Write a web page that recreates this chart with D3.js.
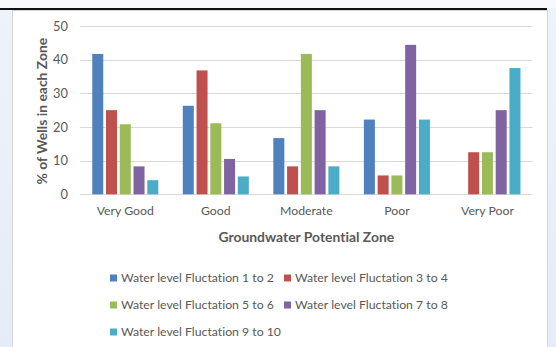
<!DOCTYPE html>
<html>
<head>
<meta charset="utf-8">
<script src="https://cdn.jsdelivr.net/npm/d3@7"></script>
<style>
  html, body { margin: 0; padding: 0; }
  body { width: 556px; height: 347px; overflow: hidden; background: linear-gradient(#eef2fa, #e6ecf7); }
  svg { display: block; }
  text { font-variant-ligatures: none; font-feature-settings: "liga" 0; }
</style>
</head>
<body>
<svg id="chart" width="556" height="347"></svg>
<script>
// Groundwater potential zones and share of wells per water-level fluctuation class
const zones = ["Very Good", "Good", "Moderate", "Poor", "Very Poor"];
const seriesNames = [
  "Water level Fluctation 1 to 2",
  "Water level Fluctation 3 to 4",
  "Water level Fluctation 5 to 6",
  "Water level Fluctation 7 to 8",
  "Water level Fluctation 9 to 10"
];
const fluct1to2  = [41.7, 26.3, 16.7, 22.2, 0];
const fluct3to4  = [25.0, 36.8, 8.3, 5.6, 12.5];
const fluct5to6  = [20.8, 21.1, 41.7, 5.6, 12.5];
const fluct7to8  = [8.3, 10.5, 25.0, 44.4, 25.0];
const fluct9to10 = [4.2, 5.3, 8.3, 22.2, 37.5];
const yTicks = [0, 10, 20, 30, 40, 50];
const colors = ["#4F81BD", "#C0504D", "#9BBB59", "#8064A2", "#4BACC6"];

const seriesValues = [fluct1to2, fluct3to4, fluct5to6, fluct7to8, fluct9to10];

const svg = d3.select("#chart");
const font = "Lato, 'Open Sans', sans-serif";
const textColor = "#595959";

// size fonts so a legend entry fills its 153px column and the x title spans 176px
function fitSize(str, weight, targetWidth) {
  const probe = svg.append("text").attr("font-family", font).attr("font-weight", weight)
    .attr("font-size", 20).text(str);
  const w = probe.node().getComputedTextLength();
  probe.remove();
  return 20 * targetWidth / w;
}
const textSize = fitSize(seriesNames[0], "normal", 153);
const titleSize = fitSize("Groundwater Potential Zone", "bold", 176);

// page frame: light top strip, dark rule, white chart panel
svg.append("rect").attr("x", 0).attr("y", 0).attr("width", 556).attr("height", 8).attr("fill", "#f7f9fd");
svg.append("rect").attr("x", 0).attr("y", 8).attr("width", 547).attr("height", 2).attr("fill", "#111");
svg.append("rect").attr("x", 12.5).attr("y", 10.5).attr("width", 535).attr("height", 340)
  .attr("fill", "#fff").attr("stroke", "#d4d4d4");

const plot = { left: 80, right: 532.7, top: 26, bottom: 194.3 };

const x0 = d3.scaleBand().domain(zones).range([plot.left, plot.right])
  .paddingInner(0.24).paddingOuter(0.12);
const x1 = d3.scaleBand().domain(d3.range(seriesNames.length)).range([0, x0.bandwidth()])
  .paddingInner(0.2).paddingOuter(0.1);
const y = d3.scaleLinear().domain([0, 50]).range([plot.bottom, plot.top]);

// gridlines
const grid = svg.append("g");
grid.selectAll("line").data(yTicks).join("line")
  .attr("x1", plot.left).attr("x2", plot.right)
  .attr("y1", d => Math.round(y(d)) + 0.5).attr("y2", d => Math.round(y(d)) + 0.5)
  .attr("stroke", "#d9d9d9").attr("stroke-width", 1);

// y axis tick labels
const yAxis = svg.append("g").attr("transform", `translate(${plot.left - 12},0)`)
  .call(d3.axisLeft(y).tickValues(yTicks).tickSize(0).tickPadding(0));
yAxis.select(".domain").remove();
yAxis.selectAll("text").attr("font-family", font).attr("font-size", textSize + 0.6).attr("fill", textColor);

// x axis category labels
const xAxis = svg.append("g").attr("transform", `translate(0,${plot.bottom})`)
  .call(d3.axisBottom(x0).tickSize(0).tickPadding(12));
xAxis.select(".domain").remove();
xAxis.selectAll("text").attr("font-family", font).attr("font-size", textSize).attr("fill", textColor);

// bars
const groups = svg.append("g").selectAll("g").data(zones).join("g")
  .attr("transform", d => `translate(${x0(d)},0)`);
groups.selectAll("rect")
  .data((z, zi) => seriesValues.map((vals, si) => ({ si, v: vals[zi] })))
  .join("rect")
  .attr("x", d => x1(d.si))
  .attr("width", x1.bandwidth())
  .attr("y", d => y(d.v))
  .attr("height", d => y(0) - y(d.v))
  .attr("fill", d => colors[d.si]);

// axis titles
svg.append("text")
  .attr("transform", `translate(47,${(plot.top + plot.bottom) / 2 + 1}) rotate(-90)`)
  .attr("text-anchor", "middle")
  .attr("font-family", font).attr("font-weight", "bold").attr("font-size", titleSize)
  .attr("fill", textColor)
  .text("% of Wells in each Zone");

svg.append("text")
  .attr("x", (plot.left + plot.right) / 2).attr("y", 242)
  .attr("text-anchor", "middle")
  .attr("font-family", font).attr("font-weight", "bold").attr("font-size", titleSize)
  .attr("fill", textColor)
  .text("Groundwater Potential Zone");

// legend: two columns, three rows
const legendPos = [[110, 278], [284, 278], [110, 305], [284, 305], [110, 332]];
const legend = svg.append("g").selectAll("g").data(seriesNames).join("g")
  .attr("transform", (d, i) => `translate(${legendPos[i][0]},${legendPos[i][1]})`);
legend.append("rect").attr("x", 0).attr("y", -3.5).attr("width", 7).attr("height", 7)
  .attr("fill", (d, i) => colors[i]);
legend.append("text").attr("x", 11).attr("y", 0).attr("dy", "0.35em")
  .attr("font-family", font).attr("font-size", textSize).attr("fill", textColor)
  .text(d => d);
</script>
</body>
</html>
